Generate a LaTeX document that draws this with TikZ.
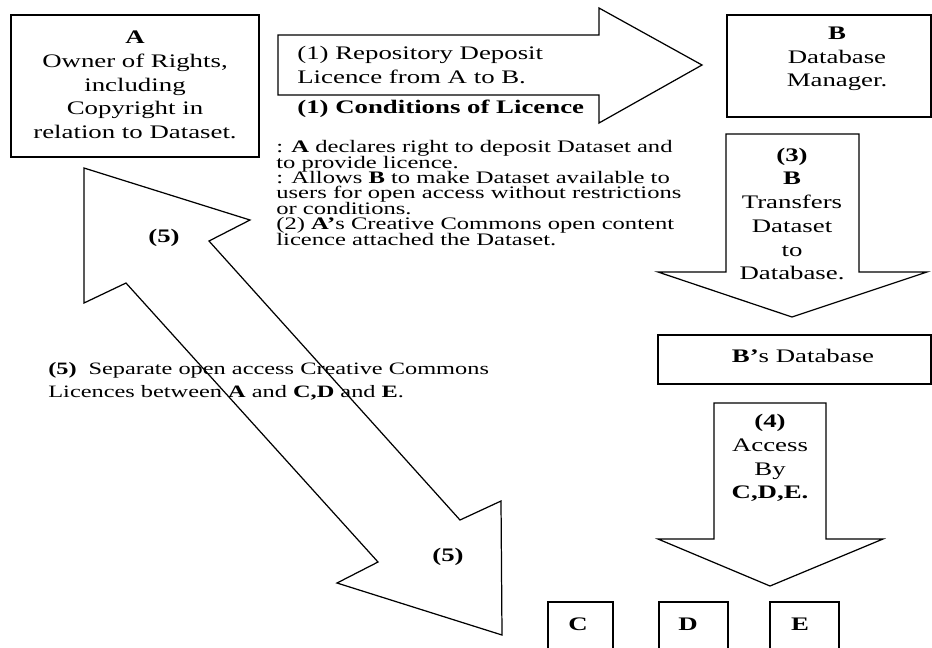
\documentclass[tikz,border=0pt]{standalone}
\usepackage{fontspec}
\setmainfont[FakeStretch=1.4]{Liberation Serif}
\newcommand\tightlines{\lineskiplimit=-20pt\relax\lineskip=0pt\relax}

\begin{document}
\begin{tikzpicture}[x=0.02cm, y=-0.02cm,
    outline/.style={draw, line width=0.7pt, line join=miter},
    boxtext/.style={align=center, inner sep=0pt, font=\fontsize{10.9}{13.5}\selectfont},
    bodytext/.style={align=left, inner sep=0pt, font=\fontsize{10}{8.8}\selectfont\tightlines}]
          \useasboundingbox (0,0) rectangle (932,647);
          \clip (0,0) rectangle (932,647);

          \draw[outline] (11,15) rectangle (259,157);
          \draw[outline] (727,15) rectangle (931,117);
          \draw[outline] (658,335) rectangle (931,384);
          \draw[outline] (548,602) rectangle (613,670);
          \draw[outline] (659,602) rectangle (728,670);
          \draw[outline] (770,602) rectangle (839,670);

          \draw[outline] (278,35) -- (599,35) -- (599,8) -- (702,65) -- (599,123)
                         -- (599,95) -- (278,95) -- cycle;
          \draw[outline] (726,134) -- (859,134) -- (859,272) -- (927,272) -- (792,317)
                         -- (658,272) -- (726,272) -- cycle;
          \draw[outline] (714,403) -- (826,403) -- (826,539) -- (883,539) -- (770,586)
                         -- (658,539) -- (714,539) -- cycle;
          \draw[outline] (84,168) -- (250,220) -- (209,241) -- (460,520) -- (501,501)
                         -- (502,635) -- (337,583) -- (378,562) -- (126,283) -- (84,303) -- cycle;

          \node[boxtext] (A) at (135,85) {\textbf{A}\\Owner of Rights,\\including\\Copyright in\\relation to Dataset.};
          \node[boxtext] (B) at (837,59) {\textbf{B}\\Database\\Manager.};
          \node[boxtext] (db) at (803,356) {\textbf{B’}s Database};
          \node[boxtext] (C) at (578,624) {\textbf{C}};
          \node[boxtext] (D) at (688,624) {\textbf{D}};
          \node[boxtext] (E) at (800,624) {\textbf{E}};

          \node[boxtext, align=left, anchor=west] (deposit) at (297,65) {(1) Repository Deposit\\Licence from A to B.};
          \node[boxtext, anchor=west] (cond) at (297,109) {\textbf{(1) Conditions of Licence}};
          \node[boxtext] (transfer) at (792,214) {\textbf{(3)}\\\textbf{B}\\Transfers\\Dataset\\to\\Database.};
          \node[boxtext] (access) at (770,458) {\textbf{(4)}\\Access\\By\\\textbf{C,D,E.}};

          \node[bodytext, anchor=west] (terms) at (276,193) {: \textbf{A} declares right to deposit Dataset and\\to provide licence.\\: Allows \textbf{B} to make Dataset available to\\users for open access without restrictions\\or conditions.\\(2) \textbf{A’}s Creative Commons open content\\licence attached the Dataset.};

          \node[boxtext] (five) at (164,238) {\textbf{(5)}};
          \node[boxtext] (fivelow) at (448,557) {\textbf{(5)}};
          \node[bodytext, anchor=west, font=\fontsize{9.9}{13}\selectfont] (separate) at (48,381) {\textbf{(5)}\,\, Separate open access Creative Commons\\Licences between \textbf{A} and \textbf{C,D} and \textbf{E}.};
        \end{tikzpicture}
\end{document}
